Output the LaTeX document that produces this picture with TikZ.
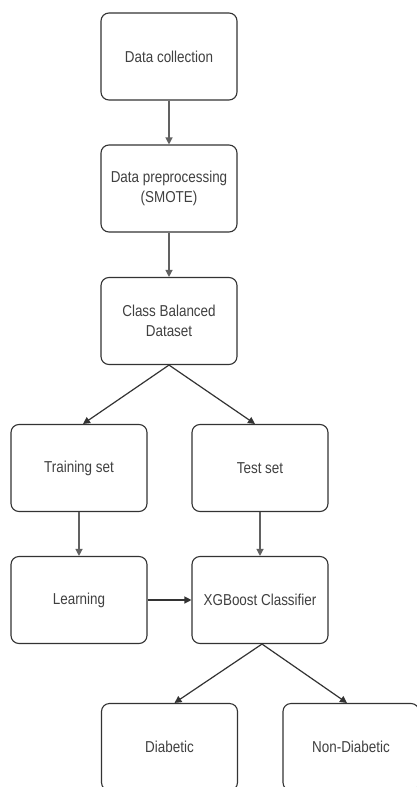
\documentclass[tikz,border=0pt]{standalone}
\usepackage{fontspec}
\setmainfont{Liberation Sans}[FakeStretch=0.85]
\usetikzlibrary{arrows.meta}
\begin{document}
\begin{tikzpicture}[x=1pt,y=-1pt,
  box/.style={draw=black!80, line width=1.1pt, rounded corners=8pt,
    minimum width=136pt, minimum height=87pt, inner sep=0pt, align=center,
    font=\fontsize{15.8}{20.5}\selectfont, text=black!75},
  arr/.style={-{Triangle[length=7pt,width=7pt]}, line width=1.2pt, draw=black!80},
  varr/.style={arr, draw=black!62, fill=black!80}]
\clip (0,0) rectangle (417,787);
\useasboundingbox (0,0) rectangle (417,787);
\fill[white] (0,0) rectangle (417,787);
\node[box] (dc)    at (169,56.5)  {Data collection};
\node[box] (pre)   at (169,188.5) {Data preprocessing\\(SMOTE)};
\node[box] (cb)    at (169,321)   {Class Balanced\\Dataset};
\node[box] (train) at (79,468)    {Training set};
\node[box] (test)  at (260,468)   {Test set};
\node[box] (learn) at (79,600)    {Learning};
\node[box] (xgb)   at (260,600)   {XGBoost Classifier};
\node[box] (dia)   at (169.5,747) {Diabetic};
\node[box] (non)   at (351,747)   {Non-Diabetic};
\draw[varr] (dc) -- (pre);
\draw[varr] (pre) -- (cb);
\draw[arr] (cb.south) -- ([xshift=4pt]train.north);
\draw[arr] (cb.south) -- ([xshift=-5pt]test.north);
\draw[varr] (train) -- (learn);
\draw[varr] (test) -- (xgb);
\draw[arr] (learn) -- (xgb);
\draw[arr] ([xshift=2pt]xgb.south) -- ([xshift=5pt]dia.north);
\draw[arr] ([xshift=2pt]xgb.south) -- ([xshift=-4pt]non.north);
\end{tikzpicture}
\end{document}
